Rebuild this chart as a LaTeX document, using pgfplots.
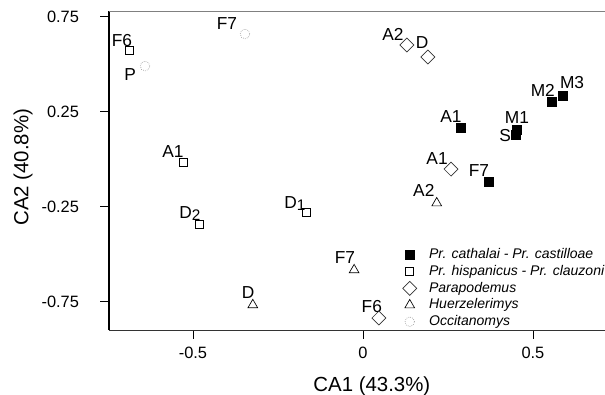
\documentclass[border=0pt]{standalone}
\usepackage{pgfplots}
\pgfplotsset{compat=1.18}
\usepackage{fontspec}
\setmainfont{Liberation Sans}
\usetikzlibrary{plotmarks}
\tikzset{lbl/.style={font=\fontsize{13}{15}\selectfont, inner sep=0pt}}
\begin{document}
\begin{tikzpicture}
\path[use as bounding box] (-81.75pt,-48.75pt) rectangle (372pt,247.5pt);
\begin{axis}[
 at={(0,0)}, anchor=south west,
 scale only axis, width=372pt, height=239.25pt,
 xmin=-0.747, xmax=0.712, ymin=-0.9, ymax=0.779,
 axis x line*=bottom, axis y line*=left,
 x axis line style={black!80, line width=0.7pt},
 y axis line style={black, line width=0.9pt},
 xtick={-0.5,0,0.5}, xticklabels={-0.5,0,0.5},
 ytick={-0.75,-0.25,0.25,0.75}, yticklabels={-0.75,-0.25,0.25,0.75},
 tick align=outside, major tick length=6.5pt,
 tick style={black, line width=0.6pt},
 ticklabel style={font=\fontsize{12.3}{14}\selectfont},
 yticklabel style={xshift=-12.5pt},
 xticklabel style={yshift=-2.8pt},
 xlabel={CA1 (43.3\%)}, ylabel={CA2 (40.8\%)},
 label style={font=\fontsize{15.3}{17}\selectfont},
 xlabel style={at={(axis description cs:0.53,0)}, anchor=center, yshift=-42pt},
 ylabel style={at={(axis description cs:-0.173,0.51)}, anchor=center},
 clip=false,
 legend style={at={(rel axis cs:0.589,0.266)}, anchor=north west, draw=none, fill=none,
   nodes={font=\fontsize{10.5}{12}\selectfont\itshape, text height=8pt, text depth=2.5pt, inner sep=1pt},
   row sep=0pt, column sep=8.3pt, inner sep=1pt},
 legend cell align=left,
]
% Pr. cathalai - Pr. castilloae
\addplot[only marks, mark=square*, mark size=3.4pt, black] coordinates {
 (0.288,0.163) (0.453,0.153) (0.450,0.126) (0.556,0.300) (0.588,0.332) (0.371,-0.121)};
\addlegendentry{Pr. cathalai - Pr. castilloae}
% Pr. hispanicus - Pr. clauzoni
\addplot[only marks, mark=square, mark size=3pt, black, mark options={line width=0.5pt}] coordinates {
 (-0.688,0.574) (-0.529,-0.016) (-0.482,-0.342) (-0.168,-0.279)};
\addlegendentry{Pr. hispanicus - Pr. clauzoni}
% Parapodemus
\addplot[only marks, mark=square, mark size=3.7pt, black!80, mark options={rotate=45, line width=0.5pt}] coordinates {
 (0.129,0.600) (0.191,0.537) (0.259,-0.053) (0.047,-0.837)};
\addlegendentry{Parapodemus}
% Huerzelerimys
\addplot[only marks, mark=triangle, mark size=4.2pt, black, mark options={line width=0.5pt}] coordinates {
 (0.217,-0.232) (-0.026,-0.584) (-0.324,-0.768)};
\addlegendentry{Huerzelerimys}
% Occitanomys
\addplot[only marks, mark=o, mark size=3.6pt, black!40, mark options={densely dotted, line width=0.5pt}] coordinates {
 (-0.641,0.489) (-0.347,0.658)};
\addlegendentry{Occitanomys}
\draw[black!50, line width=0.7pt] (rel axis cs:0,1) -- (rel axis cs:1,1);
% labels
\node[lbl] at (axis cs:0.259,0.226) {A1};
\node[lbl] at (axis cs:0.453,0.216) {M1};
\node[lbl] at (axis cs:0.418,0.121) {S};
\node[lbl] at (axis cs:0.529,0.363) {M2};
\node[lbl] at (axis cs:0.615,0.400) {M3};
\node[lbl] at (axis cs:0.341,-0.063) {F7};
\node[lbl] at (axis cs:-0.709,0.626) {F6};
\node[lbl] at (axis cs:-0.559,0.037) {A1};
\node[lbl] at (axis cs:-0.509,-0.289) {D\raisebox{-1.5pt}{\fontsize{11.5}{13}\selectfont 2}};
\node[lbl] at (axis cs:-0.200,-0.232) {D\raisebox{-1.5pt}{\fontsize{11.5}{13}\selectfont 1}};
\node[lbl] at (axis cs:0.088,0.653) {A2};
\node[lbl] at (axis cs:0.174,0.611) {D};
\node[lbl] at (axis cs:0.218,0.005) {A1};
\node[lbl] at (axis cs:0.026,-0.779) {F6};
\node[lbl] at (axis cs:0.179,-0.163) {A2};
\node[lbl] at (axis cs:-0.053,-0.521) {F7};
\node[lbl] at (axis cs:-0.338,-0.705) {D};
\node[lbl] at (axis cs:-0.685,0.442) {P};
\node[lbl] at (axis cs:-0.400,0.711) {F7};
\end{axis}
\end{tikzpicture}
\end{document}
